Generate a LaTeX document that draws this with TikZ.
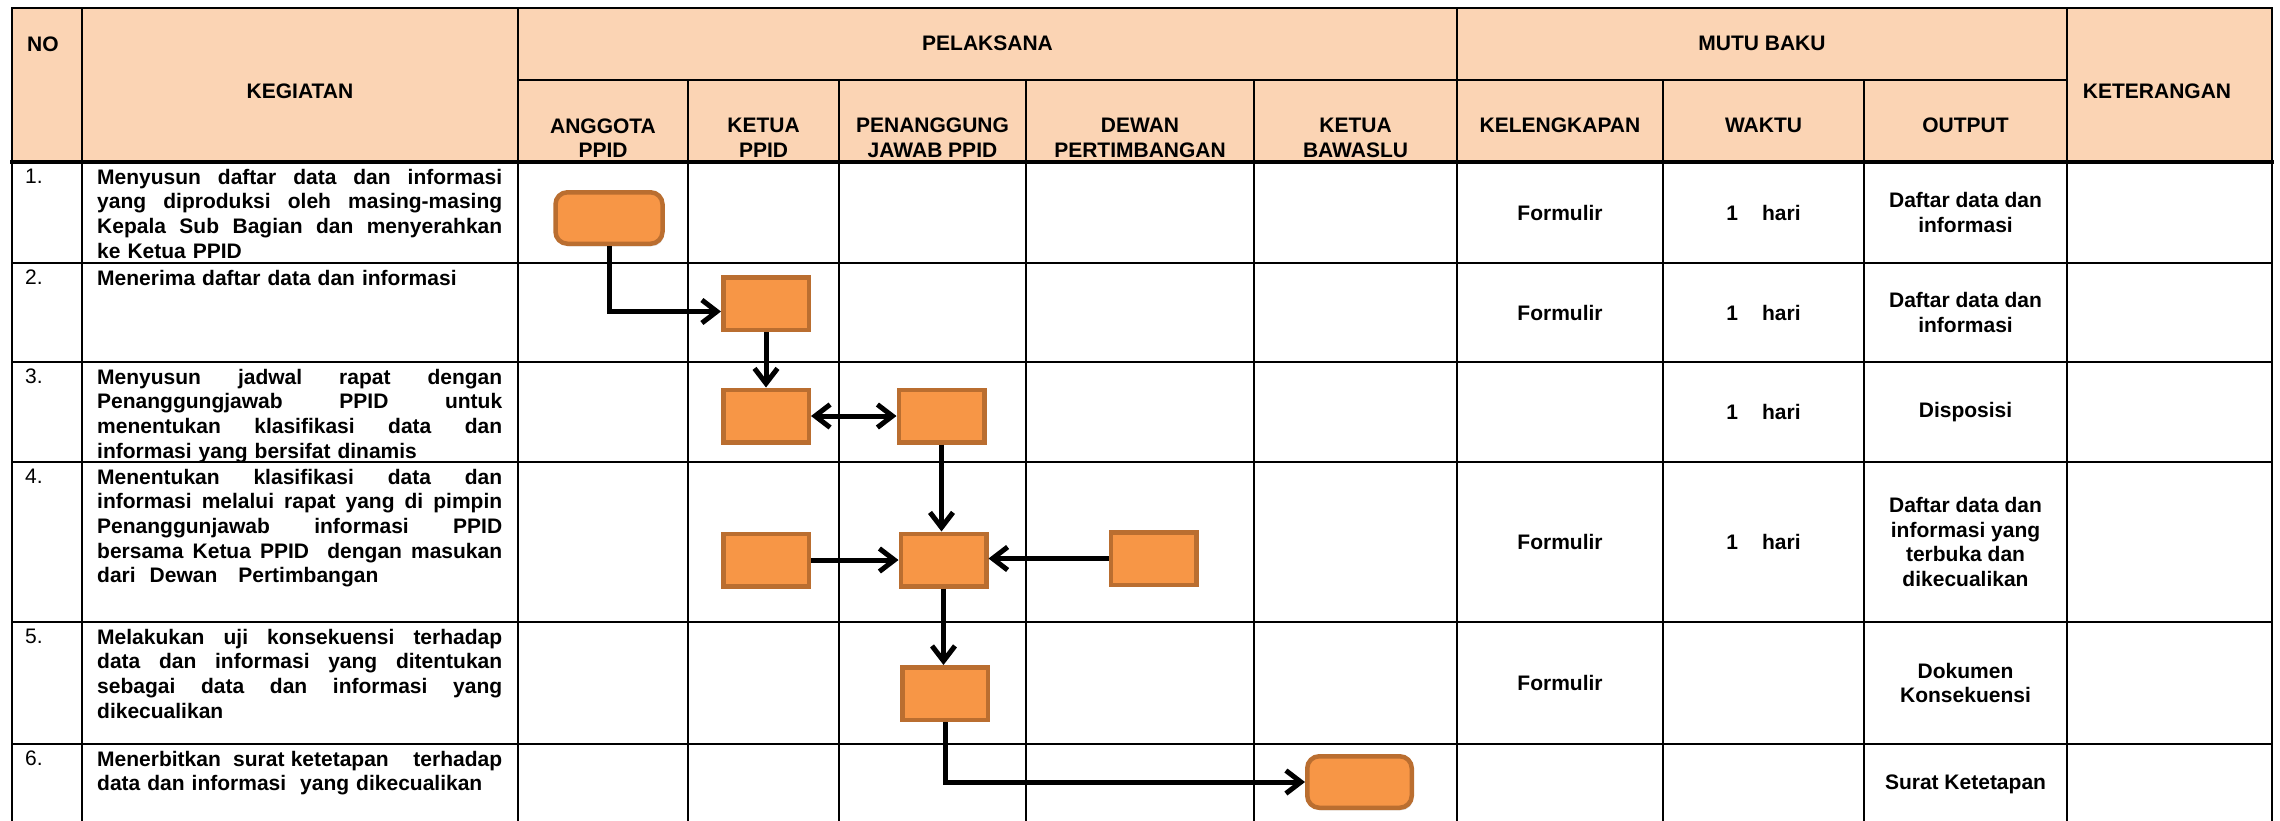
\documentclass[tikz,border=0pt]{standalone}
\usepackage{fontspec}
\setmainfont{Liberation Sans}
\usetikzlibrary{arrows.meta,shadows}
\definecolor{hdrfill}{RGB}{251,212,180}
\definecolor{boxfill}{RGB}{247,150,70}
\definecolor{boxline}{RGB}{186,110,48}
\newcommand{\jl}[1]{\makebox[405pt][s]{\spaceskip=0pt\xspaceskip=0pt\relax #1}}
\begin{document}
\begin{tikzpicture}[x=1pt,y=-1pt,
  grid/.style={line width=2.2pt, black, line cap=rect},
  hd/.style={font=\fontsize{21}{24.6}\selectfont\bfseries, inner sep=0pt, align=center},
  txt/.style={font=\fontsize{21}{24.6}\selectfont\bfseries, inner sep=0pt, align=left, text width=405pt, anchor=north west},
  num/.style={font=\fontsize{21}{24.6}\selectfont, inner sep=0pt, anchor=west},
  cell/.style={font=\fontsize{21}{24.6}\selectfont\bfseries, inner sep=0pt, align=center},
  proc/.style={draw=boxline, fill=boxfill, line width=4.5pt, minimum width=85.5pt, minimum height=52.5pt, inner sep=0pt,
    drop shadow={shadow xshift=1.5pt, shadow yshift=-2.5pt, opacity=0.25}},
  procr/.style={proc, rounded corners=12pt, minimum width=107pt, minimum height=51.5pt},
  flow/.style={line width=5pt, -{Straight Barb[length=15pt,width=23pt]}},
  flowtwo/.style={line width=5pt, {Straight Barb[length=15pt,width=23pt]}-{Straight Barb[length=15pt,width=23pt]}},
]
\useasboundingbox (0,0) rectangle (2280,820);
\fill[hdrfill] (12,8) rectangle (2272,162);
% grid
\foreach \yy in {8,263,362,462,622,744} \draw[grid] (12,\yy) -- (2272,\yy);
\draw[grid] (518,80) -- (2067,80);
\draw[grid, line width=3.5pt] (12,162) -- (2272,162);
\foreach \xx in {12,82,518,1457,2067,2272} \draw[grid] (\xx,8) -- (\xx,820);
\foreach \xx in {688,839,1026,1254,1663,1864} \draw[grid] (\xx,80) -- (\xx,820);

% header texts
\node[hd, anchor=west] (hno) at (27,44) {NO};
\node[hd] (hkeg) at (300,91) {KEGIATAN};
\node[hd] (hpel) at (987.5,43) {PELAKSANA};
\node[hd] (hmutu) at (1762,43) {MUTU BAKU};
\node[hd] (hket) at (2157,91) {KETERANGAN};
\node[hd] (hang) at (603,138) {ANGGOTA\\PPID};
\node[hd] (hketua) at (763.5,138) {KETUA\\PPID};
\node[hd] (hpj) at (932.5,138) {PENANGGUNG\\JAWAB PPID};
\node[hd] (hdewan) at (1140,138) {DEWAN\\PERTIMBANGAN};
\node[hd] (hbaw) at (1355.5,138) {KETUA\\BAWASLU};
\node[hd] (hkel) at (1560,125.5) {KELENGKAPAN};
\node[hd] (hwak) at (1763.5,125.5) {WAKTU};
\node[hd] (hout) at (1965.5,125.5) {OUTPUT};

% numbers
\node[num] (n1) at (25,176.5) {1.};
\node[num] (n2) at (25,277.5) {2.};
\node[num] (n3) at (25,376.5) {3.};
\node[num] (n4) at (25,476.5) {4.};
\node[num] (n5) at (25,636.5) {5.};
\node[num] (n6) at (25,758.5) {6.};

% activities
\node[txt] (t1) at (97,166.8) {\strut\jl{Menyusun daftar data dan informasi}\\\jl{yang diproduksi oleh masing-masing}\\\jl{Kepala Sub Bagian dan menyerahkan}\\ke Ketua PPID};
\node[txt] (t2) at (97,267.8) {\strut Menerima daftar data dan informasi};
\node[txt] (t3) at (97,366.8) {\strut\jl{Menyusun jadwal rapat dengan}\\\jl{Penanggungjawab PPID untuk}\\\jl{menentukan klasifikasi data dan}\\informasi yang bersifat dinamis};
\node[txt] (t4) at (97,466.8) {\strut\jl{Menentukan klasifikasi data dan}\\\jl{informasi melalui rapat yang di pimpin}\\\jl{Penanggunjawab informasi PPID}\\\jl{bersama Ketua PPID\ \ dengan masukan}\\dari\ \ Dewan\ \ \ Pertimbangan};
\node[txt] (t5) at (97,626.8) {\strut\jl{Melakukan uji konsekuensi terhadap}\\\jl{data dan informasi yang ditentukan}\\\jl{sebagai data dan informasi yang}\\dikecualikan};
\node[txt] (t6) at (97,748.8) {\strut\jl{Menerbitkan\ \ surat ketetapan\ \ \ \ terhadap}\\data dan informasi\ \ yang dikecualikan};

% kelengkapan
\node[cell] (k1) at (1560,212.5) {Formulir};
\node[cell] (k2) at (1560,312.5) {Formulir};
\node[cell] (k4) at (1560,542) {Formulir};
\node[cell] (k5) at (1560,683) {Formulir};
% waktu
\node[cell] (w1) at (1763.5,212.5) {1\hspace{24pt}hari};
\node[cell] (w2) at (1763.5,312.5) {1\hspace{24pt}hari};
\node[cell] (w3) at (1763.5,412) {1\hspace{24pt}hari};
\node[cell] (w4) at (1763.5,542) {1\hspace{24pt}hari};
% output
\node[cell] (o1) at (1965.5,212.5) {Daftar data dan\\informasi};
\node[cell] (o2) at (1965.5,312.5) {Daftar data dan\\informasi};
\node[cell] (o3) at (1965.5,412) {Disposisi};
\node[cell] (o4) at (1965.5,542) {Daftar data dan\\informasi yang\\terbuka dan\\dikecualikan};
\node[cell] (o5) at (1965.5,683) {Dokumen\\Konsekuensi};
\node[cell] (o6) at (1965.5,784) {Surat Ketetapan};

% process boxes
\node[procr] (a) at (609,218) {};
\node[proc] (b) at (766,303.5) {};
\node[proc] (c) at (766,416) {};
\node[proc] (d) at (941.5,416) {};
\node[proc] (e) at (766,560) {};
\node[proc] (f) at (943.5,560) {};
\node[proc] (g) at (1153.5,558.5) {};
\node[proc] (h) at (945,693.5) {};
\node[procr, minimum width=104.5pt] (i) at (1359.5,782) {};

% flows
\draw[flow] (a.south) |- ([yshift=-8pt]b.west);
\draw[flow] (b.south) -- (c.north);
\draw[flowtwo] (c.east) -- (d.west);
\draw[flow] (d.south) -- (d.south |- f.north);
\draw[flow] (e.east) -- (f.west);
\draw[flow] (g.west) -- (g.west -| f.east);
\draw[flow] (f.south) -- (f.south |- h.north);
\draw[flow] (h.south) |- (i.west);
\end{tikzpicture}
\end{document}
